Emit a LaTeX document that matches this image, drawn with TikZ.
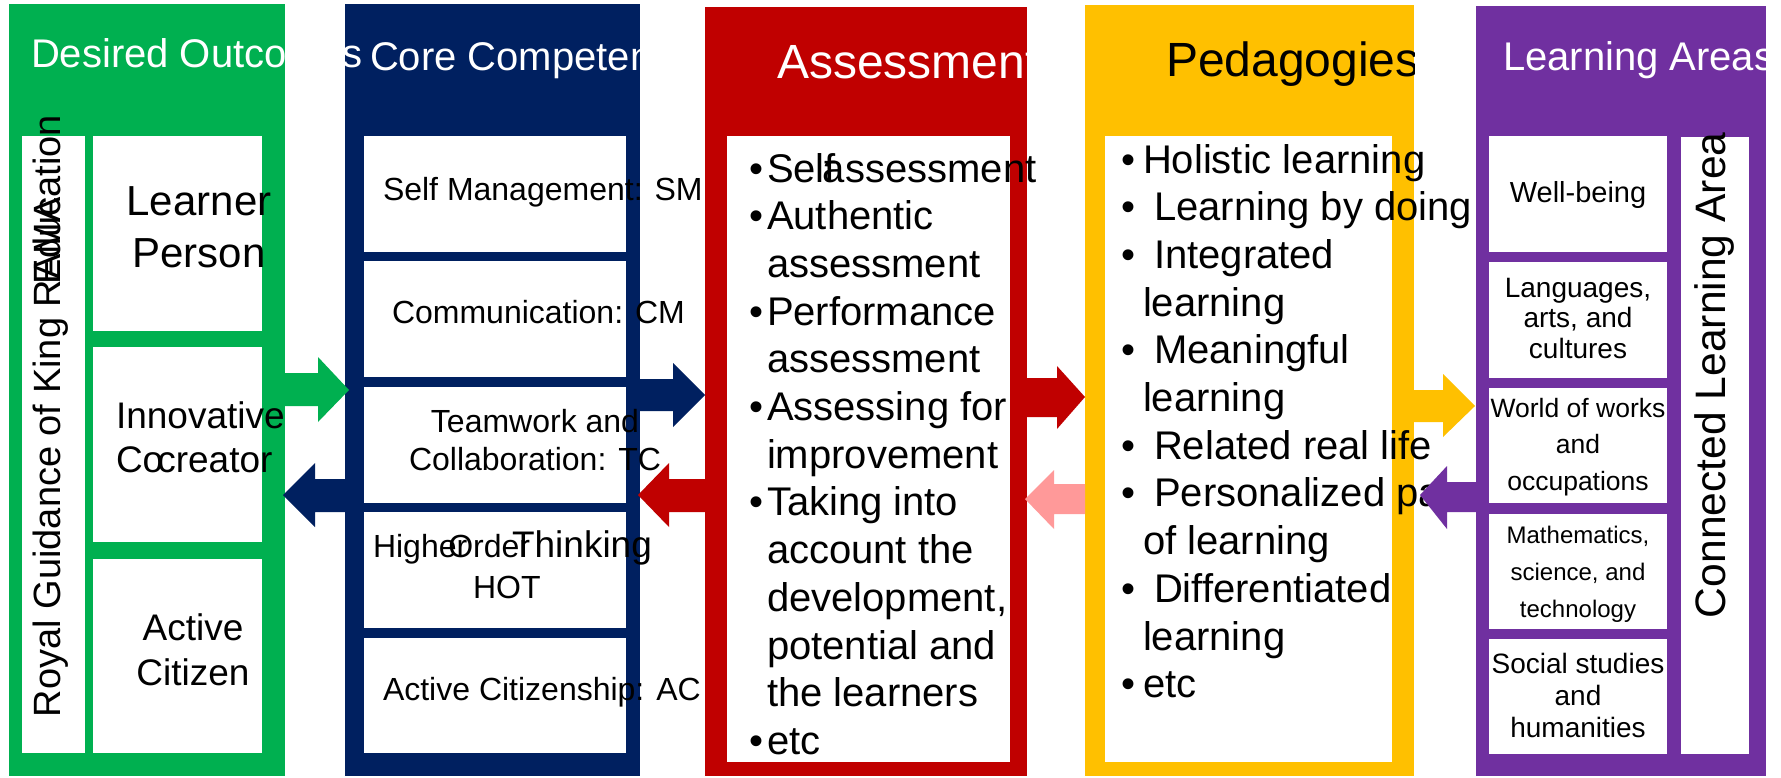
\documentclass[tikz,border=0pt]{standalone}
\usepackage{fontspec}
\setmainfont{Liberation Sans}
\definecolor{cgreen}{HTML}{00B050}
\definecolor{cnavy}{HTML}{002060}
\definecolor{cred}{HTML}{C00000}
\definecolor{cyellow}{HTML}{FFC000}
\definecolor{cpurple}{HTML}{7030A0}
\definecolor{cpink}{HTML}{FF9999}
\newcommand\fsz[2]{\fontsize{#1}{#2}\selectfont}
\newcommand\clines[1]{\vtop{\halign{\hfil##\hfil\cr#1\crcr}}}
\newcommand\llines[1]{\vtop{\halign{##\hfil\cr#1\crcr}}}
\newcommand\rb{\llap{•\hspace{4pt}}}
\newcommand\yb{\llap{•\hspace{8pt}}}
\tikzset{
  pnl/.style={anchor=north west, inner sep=0pt, outer sep=0pt, draw=none, fill=#1},
  txt/.style={inner sep=0pt, outer sep=0pt, text=black},
  ttl/.style={inner sep=0pt, outer sep=0pt, anchor=base west},
}
\begin{document}
\begin{tikzpicture}[x=1pt, y=-1pt]
\useasboundingbox (0,0) rectangle (1781,777);
\fill[white] (0,0) rectangle (1781,777);
% panels
\node[pnl=cgreen, minimum width=276pt, minimum height=772pt] (gpanel) at (9,4) {};
\node[pnl=cnavy, minimum width=295pt, minimum height=772pt] (npanel) at (345,4) {};
\node[pnl=cred, minimum width=322pt, minimum height=769pt] (rpanel) at (705,7) {};
\node[pnl=cyellow, minimum width=329pt, minimum height=771pt] (ypanel) at (1085,5) {};
\node[pnl=cpurple, minimum width=290pt, minimum height=770pt] (ppanel) at (1476,6) {};
% inner white boxes
\node[pnl=white, minimum width=63pt, minimum height=617pt] (gstrip) at (22,136) {};
\node[pnl=white, minimum width=169pt, minimum height=195pt] (gbox1) at (93,136) {};
\node[pnl=white, minimum width=169pt, minimum height=195pt] (gbox2) at (93,347) {};
\node[pnl=white, minimum width=169pt, minimum height=194pt] (gbox3) at (93,559) {};
\node[pnl=white, minimum width=262pt, minimum height=116pt] (nbox1) at (364,136) {};
\node[pnl=white, minimum width=262pt, minimum height=116pt] (nbox2) at (364,261) {};
\node[pnl=white, minimum width=262pt, minimum height=116pt] (nbox3) at (364,387) {};
\node[pnl=white, minimum width=262pt, minimum height=116pt] (nbox4) at (364,512) {};
\node[pnl=white, minimum width=262pt, minimum height=115pt] (nbox5) at (364,638) {};
\node[pnl=white, minimum width=283pt, minimum height=626pt] (rbox) at (727,136) {};
\node[pnl=white, minimum width=287pt, minimum height=626pt] (ybox) at (1105,136) {};
\node[pnl=white, minimum width=178pt, minimum height=116pt] (pbox1) at (1489,136) {};
\node[pnl=white, minimum width=178pt, minimum height=116pt] (pbox2) at (1489,262) {};
\node[pnl=white, minimum width=178pt, minimum height=115pt] (pbox3) at (1489,388) {};
\node[pnl=white, minimum width=178pt, minimum height=115pt] (pbox4) at (1489,514) {};
\node[pnl=white, minimum width=178pt, minimum height=115pt] (pbox5) at (1489,639) {};
\node[pnl=white, minimum width=68pt, minimum height=617pt] (pstrip) at (1681,137) {};
% titles
\node[ttl, text=white, font=\fsz{40}{48}] (gtitle) at (31,67) {Desired Outcomes};
\begin{scope}
\clip (345,4) rectangle (640,776);
\node[ttl, text=white, font=\fsz{40}{48}] (ntitle) at (370,70) {Core Competencies};
\end{scope}
\begin{scope}
\clip (705,7) rectangle (1027,776);
\node[ttl, text=white, font=\fsz{48}{56}] (rtitle) at (777,78) {Assessment};
\end{scope}
\begin{scope}
\clip (1085,5) rectangle (1414,776);
\node[ttl, text=black, font=\fsz{48}{56}] (ytitle) at (1166,76) {Pedagogies};
\end{scope}
\begin{scope}
\clip (1476,6) rectangle (1766,776);
\node[ttl, text=white, font=\fsz{40}{48}] (ptitle) at (1503,70) {Learning Areas};
\end{scope}
% green texts
\node[txt, rotate=90, anchor=base west, font=\fsz{38}{46}] (royal) at (60,717) {Royal Guidance of King RAMA};
\node[txt, rotate=90, anchor=base east, font=\fsz{38}{46}] (edu) at (60,115) {Education};
\node[txt, anchor=base, font=\fsz{42}{52}] (learner) at (199,215) {\clines{Learner\cr Person}};
\node[txt, anchor=base west, font=\fsz{37}{44}] (innov) at (116,428) {\llines{Innovative\cr Co\kern-6pt creator}};
\node[txt, anchor=base, font=\fsz{37}{45}] (active) at (193,640) {\clines{Active\cr Citizen}};
% navy texts
\node[txt, anchor=base west, font=\fsz{32}{38}] (sm) at (383,200) {Self Management: SM};
\node[txt, anchor=base west, font=\fsz{32}{38}] (cm) at (392,323) {Communication: CM};
\node[txt, anchor=base, font=\fsz{32}{38}] (tc) at (535,432) {\clines{Teamwork and\cr Collaboration: TC}};
\node[txt, anchor=base west, font=\fsz{32}{41}] (hot) at (373,557) {\llines{Higher\kern-19pt Order\kern-18pt{\fsz{37}{41}Thinking}\cr \hspace{100pt}HOT}};
\node[txt, anchor=base west, font=\fsz{32}{38}] (ac) at (383,700) {Active Citizenship: AC};
% red list
\node[txt, anchor=base west, font=\fsz{40}{47.7}] (rlist) at (767,182) {\llines{%
\rb Self\kern-13pt assessment\cr
\rb Authentic\cr
assessment\cr
\rb Performance\cr
assessment\cr
\rb Assessing for\cr
improvement\cr
\rb Taking into\cr
account the\cr
development,\cr
potential and\cr
the learners\cr
\rb etc}};
% yellow list
\begin{scope}
\clip (1085,5) rectangle (1470,776);
\node[txt, anchor=base west, font=\fsz{40}{47.7}] (ylist) at (1143,173) {\llines{%
\yb Holistic learning\cr
\yb\ Learning by doing\cr
\yb\ Integrated\cr
learning\cr
\yb\ Meaningful\cr
learning\cr
\yb\ Related real life\cr
\yb\ Personalized pace\cr
of learning\cr
\yb\ Differentiated\cr
learning\cr
\yb etc}};
\end{scope}
% purple texts
\node[txt, anchor=base, font=\fsz{29}{35}] (wb) at (1578,202) {Well-being};
\node[txt, anchor=base, font=\fsz{28}{30.5}] (lang) at (1578,297) {\clines{Languages,\cr arts, and\cr cultures}};
\node[txt, anchor=base, font=\fsz{26.5}{36.5}] (work) at (1578,417) {\clines{World of works\cr and\cr occupations}};
\node[txt, anchor=base, font=\fsz{24}{37}] (math) at (1578,543) {\clines{Mathematics,\cr science, and\cr technology}};
\node[txt, anchor=base, font=\fsz{28}{32}] (soc) at (1578,673) {\clines{Social studies\cr and\cr humanities}};
\node[txt, rotate=90, anchor=base west, font=\fsz{42.6}{50}] (conn) at (1725,618) {Connected Learning Area};
% block arrows
\fill[cgreen] (285,373) -- (318,373) -- (318,357) -- (349,390) -- (318,422) -- (318,406) -- (285,406) -- cycle;
\fill[cnavy] (345,479) -- (315,479) -- (315,463) -- (283,495) -- (315,527) -- (315,512) -- (345,512) -- cycle;
\fill[cnavy] (640,379) -- (673,379) -- (673,363) -- (705,395) -- (673,427) -- (673,411) -- (640,411) -- cycle;
\fill[cred] (705,479) -- (669,479) -- (669,463) -- (638,495) -- (669,527) -- (669,512) -- (705,512) -- cycle;
\fill[cred] (1027,378) -- (1057,378) -- (1057,366) -- (1085,397) -- (1057,429) -- (1057,417) -- (1027,417) -- cycle;
\fill[cpink] (1085,484) -- (1054,484) -- (1054,470) -- (1025,499) -- (1054,529) -- (1054,514) -- (1085,514) -- cycle;
\fill[cyellow] (1414,390) -- (1443,390) -- (1443,374) -- (1475,406) -- (1443,437) -- (1443,422) -- (1414,422) -- cycle;
\fill[cpurple] (1476,482) -- (1447,482) -- (1447,466) -- (1420,495) -- (1447,529) -- (1447,512) -- (1476,512) -- cycle;
\end{tikzpicture}
\end{document}
